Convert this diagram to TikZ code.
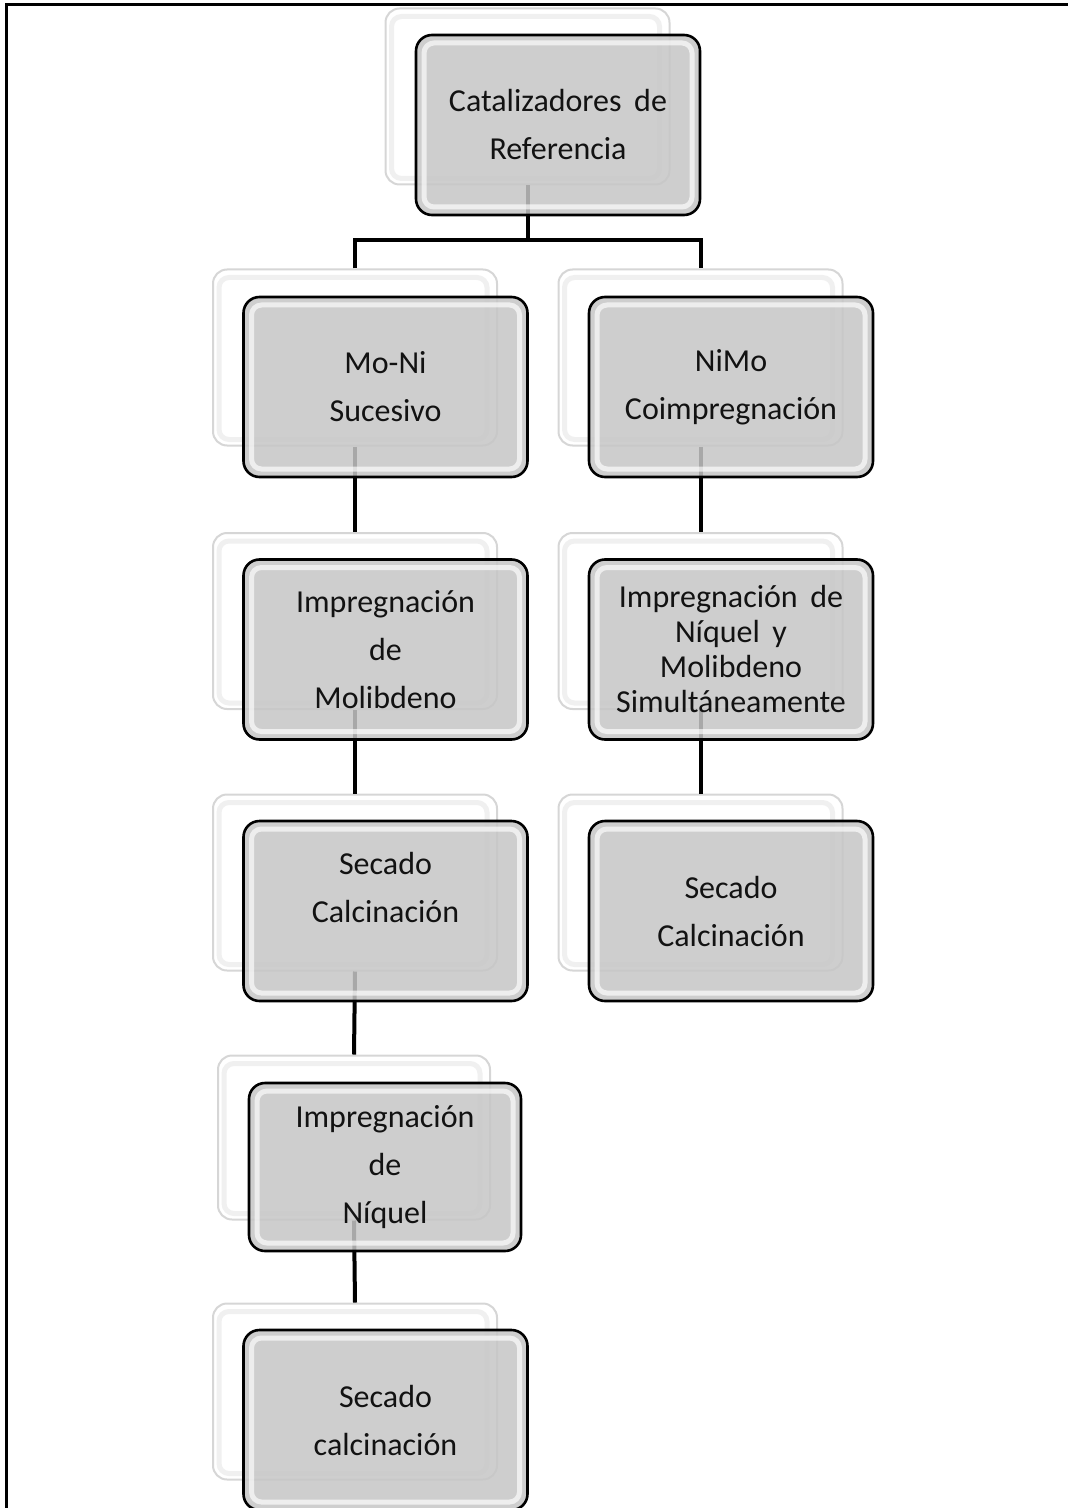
\documentclass[tikz,border=0pt]{standalone}
\usepackage{fontspec}
\setmainfont{Carlito}
\usetikzlibrary{positioning}

\definecolor{cardgray}{RGB}{198,198,198}
\definecolor{rimgray}{RGB}{214,214,214}
\definecolor{inkgray}{RGB}{18,18,18}

\tikzset{
  backcard/.style={rectangle, rounded corners=7pt, draw=rimgray, line width=1pt, fill=white,
    minimum width=142pt, minimum height=88pt,
    path picture={\draw[gray!12, line width=2.5pt, rounded corners=5pt]
      ([shift={(3pt,-4pt)}]path picture bounding box.north west) rectangle
      ([shift={(-5pt,3pt)}]path picture bounding box.south east);}},
  frontcard/.style={rectangle, rounded corners=8pt, draw=black, line width=1.3pt,
    fill=cardgray, fill opacity=0.85, text opacity=1, text=inkgray, align=center,
    minimum width=142pt, minimum height=90pt, font=\fontsize{16}{24}\selectfont,
    path picture={\draw[white, opacity=0.65, line width=2.5pt, rounded corners=5pt]
      ([shift={(4pt,-4pt)}]path picture bounding box.north west) rectangle
      ([shift={(-4pt,4pt)}]path picture bounding box.south east);}},
  link/.style={line width=2pt, black},
  frame/.style={line width=1.5pt, black}
}

\begin{document}
\begin{tikzpicture}[x=0.5pt,y=-0.5pt]
\useasboundingbox (0,0) rectangle (1068,1508);
\clip (0,0) rectangle (1068,1508);

\draw[frame] (1120,5) -| (6,1560);

% back cards
\node[backcard] (catb) at (527.5,96.5) {};
\node[backcard] (mob) at (355,357.5) {};
\node[backcard] (nib) at (700.5,357.5) {};
\node[backcard] (molb) at (355,621) {};
\node[backcard] (simb) at (700.5,621) {};
\node[backcard] (secab) at (355,882.5) {};
\node[backcard] (secbb) at (700.5,882.5) {};
\node[backcard, minimum width=136pt, minimum height=82pt] (niqb) at (354,1137.5) {};
\node[backcard] (seccb) at (355,1391.5) {};

% links
\draw[link] (catb.south) -- ++(0,55) coordinate (fork);
\draw[link] (mob.north) |- (fork) -| (nib.north);
\draw[link] (mob.south) -- (molb.north);
\draw[link] (molb.south) -- (secab.north);
\draw[link] (secab.south) -- (niqb.north);
\draw[link] (niqb.south) -- (seccb.north);
\draw[link] (nib.south) -- (simb.north);
\draw[link] (simb.south) -- (secbb.north);

% front cards
\node[frontcard] (cat) at ([shift={(30.5,28.5)}]catb.center) {Catalizadores\ \,de\\Referencia};
\node[frontcard] (mo) at ([shift={(30.5,29.5)}]mob.center) {Mo-Ni\\Sucesivo};
\node[frontcard] (ni) at ([shift={(30.5,29.5)}]nib.center) {NiMo\\Coimpregnación};
\node[frontcard] (mol) at ([shift={(30.5,28.5)}]molb.center) {Impregnación\\de\\Molibdeno};
\node[frontcard, font=\fontsize{16}{17.5}\selectfont] (sim) at ([shift={(30.5,28.5)}]simb.center)
  {Impregnación\ \,de\\Níquel\ \,y\\Molibdeno\\Simultáneamente};
\node[frontcard] (seca) at ([shift={(30.5,28.5)}]secab.center) {Secado\\Calcinación\\\mbox{}};
\node[frontcard] (secb) at ([shift={(30.5,28.5)}]secbb.center) {Secado\\Calcinación};
\node[frontcard, minimum width=136pt, minimum height=84pt] (niq) at ([shift={(31,29.5)}]niqb.center)
  {Impregnación\\de\\Níquel};
\node[frontcard] (secc) at ([shift={(30.5,28.5)}]seccb.center) {Secado\\calcinación};
\end{tikzpicture}
\end{document}
